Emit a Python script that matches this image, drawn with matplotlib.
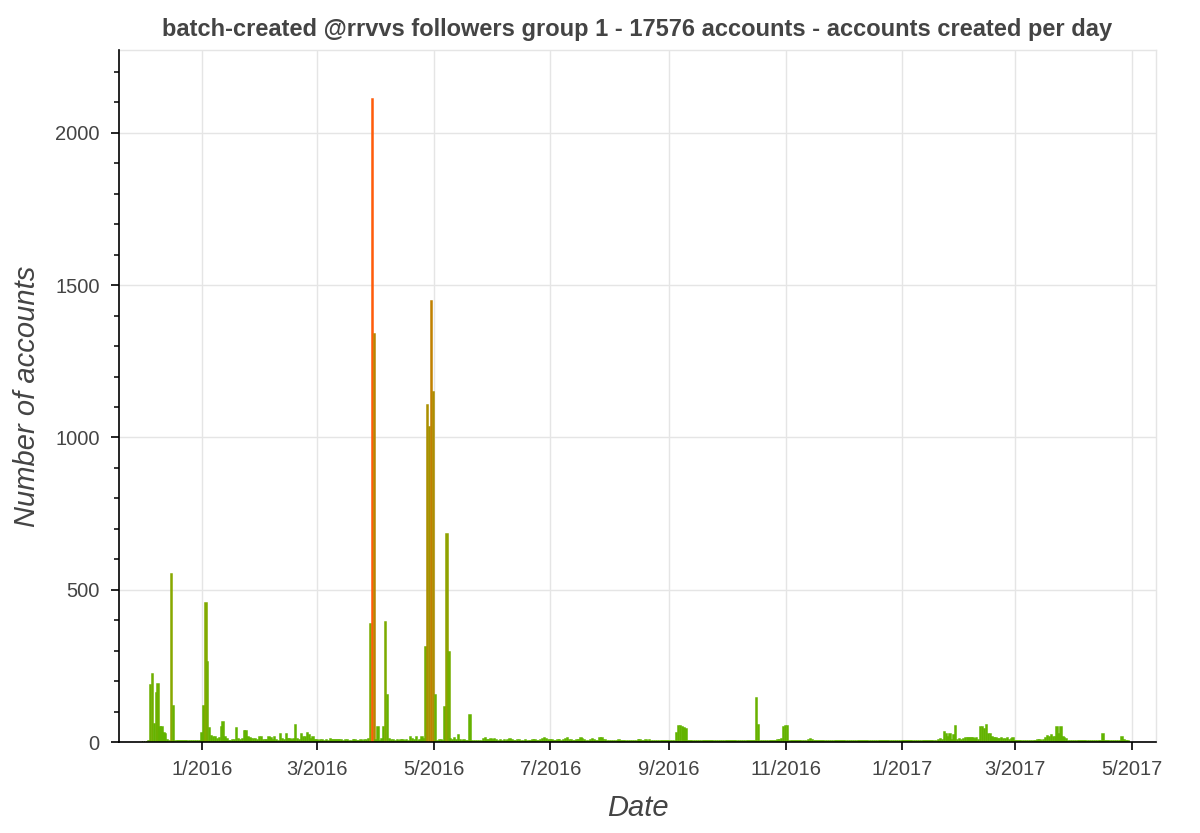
import datetime as dt
import matplotlib
matplotlib.use('Agg')
import matplotlib.pyplot as plt
import matplotlib.dates as mdates
from matplotlib.colors import LinearSegmentedColormap
from matplotlib.ticker import MultipleLocator, FuncFormatter
import pandas as pd

plt.rcParams['font.family'] = ['Liberation Sans', 'DejaVu Sans']

title = 'batch-created @rrvvs followers group 1 - 17576 accounts - accounts created per day'

# accounts created per day, one list per month
dec_2015 = [0, 0, 0, 2, 187, 223, 60, 160, 190, 50, 48, 30, 28, 8, 4, 552, 118, 4, 3, 5, 3, 4, 3, 5, 4, 3, 4, 5, 3, 4, 5]
jan_2016 = [30, 118, 456, 263, 46, 20, 15, 17, 10, 12, 49, 66, 15, 10, 5, 5, 6, 8, 46, 10, 8, 10, 35, 37, 15, 12, 10, 10, 10, 8, 15]
feb_2016 = [15, 7, 6, 8, 15, 12, 6, 18, 8, 5, 27, 10, 8, 27, 10, 10, 8, 10, 55, 10, 8, 25, 15, 15, 30, 22, 10, 15, 6]
mar_2016 = [6, 5, 7, 6, 5, 6, 5, 10, 8, 7, 6, 8, 6, 7, 5, 6, 7, 5, 4, 6, 8, 5, 4, 7, 5, 6, 8, 10, 387, 2110, 1341]
apr_2016 = [8, 49, 5, 10, 49, 394, 155, 10, 8, 6, 5, 7, 5, 6, 8, 5, 6, 5, 15, 10, 6, 15, 5, 7, 16, 10, 313, 1106, 1035, 1448]
may_2016 = [1149, 155, 5, 8, 6, 5, 116, 683, 296, 10, 8, 12, 8, 23, 6, 5, 8, 5, 5, 89, 4, 5, 4, 4, 5, 4, 10, 12, 8, 8, 9]
jun_2016 = [8, 10, 6, 5, 8, 4, 6, 5, 7, 9, 6, 5, 4, 6, 8, 5, 4, 6, 5, 4, 5, 7, 6, 4, 5, 8, 10, 12, 9, 7]
jul_2016 = [8, 6, 5, 4, 6, 8, 5, 7, 10, 12, 8, 6, 5, 4, 6, 8, 12, 9, 6, 5, 4, 8, 10, 6, 5, 4, 12, 12, 8, 6, 5]
aug_2016 = [5, 4, 5, 4, 4, 8, 5, 4, 5, 4, 4, 5, 4, 4, 5, 7, 6, 4, 5, 7, 5, 6, 5, 4, 4, 4, 5, 4, 4, 4, 5]
sep_2016 = [4, 4, 4, 5, 30, 53, 52, 50, 45, 42, 4, 4, 4, 3, 4, 4, 4, 3, 4, 4, 4, 5, 4, 4, 3, 4, 4, 4, 3, 4]
oct_2016 = [4, 3, 4, 4, 3, 4, 4, 4, 3, 4, 3, 4, 4, 4, 3, 5, 144, 56, 4, 4, 3, 4, 4, 4, 4, 3, 5, 8, 6, 10, 48]
nov_2016 = [52, 52, 4, 4, 4, 4, 4, 4, 4, 4, 5, 5, 8, 10, 6, 4, 4, 4, 4, 3, 4, 4, 4, 3, 4, 4, 4, 4, 5, 4]
dec_2016 = [4, 4, 5, 4, 3, 4, 4, 4, 3, 4, 4, 4, 3, 4, 3, 4, 4, 4, 3, 4, 3, 4, 3, 4, 4, 4, 3, 4, 3, 4, 3]
jan_2017 = [4, 3, 4, 3, 4, 3, 4, 4, 4, 3, 4, 3, 4, 4, 4, 4, 5, 4, 5, 8, 10, 8, 33, 28, 18, 25, 8, 22, 52, 8, 10]
feb_2017 = [8, 10, 12, 12, 14, 14, 12, 10, 12, 8, 50, 50, 44, 55, 25, 25, 15, 12, 12, 10, 10, 12, 10, 9, 12, 8, 10, 12]
mar_2017 = [4, 4, 4, 4, 3, 4, 4, 4, 5, 4, 5, 4, 6, 8, 5, 6, 12, 20, 18, 22, 15, 15, 50, 25, 48, 15, 12, 10, 5, 4, 4]
apr_2017 = [5, 4, 5, 4, 4, 5, 4, 5, 4, 5, 4, 4, 5, 4, 4, 25, 4, 4, 4, 4, 3, 4, 4, 4, 4, 15, 8, 4, 2, 0]

counts = (dec_2015 + jan_2016 + feb_2016 + mar_2016 + apr_2016 + may_2016 + jun_2016
          + jul_2016 + aug_2016 + sep_2016 + oct_2016 + nov_2016 + dec_2016
          + jan_2017 + feb_2017 + mar_2017 + apr_2017)
days = pd.date_range('2015-12-01', periods=len(counts), freq='D')

# green -> orange-red depending on the count
cmap = LinearSegmentedColormap.from_list('grn_red', [
    (0.0, '#5fb400'), (0.26, '#88a800'), (0.69, '#c08000'), (1.0, '#ff5c0a')])
vmax = max(counts)
colors = [cmap(c / vmax) for c in counts]

fig = plt.figure(figsize=(12, 8.33), dpi=100)
ax = fig.add_axes([0.0992, 0.1092, 0.8641, 0.8308])

# outline in the same colour as the fill, so tiny bars still show up
ax.bar(days.to_pydatetime(), counts, width=0.7, color=colors, edgecolor=colors,
       linewidth=1.1, zorder=2)

ax.set_xlim(dt.datetime(2015, 11, 18, 14), dt.datetime(2017, 5, 13, 16))
ax.set_ylim(0, 2272)

ax.xaxis.set_major_locator(mdates.MonthLocator(bymonth=[1, 3, 5, 7, 9, 11]))
ax.xaxis.set_major_formatter(FuncFormatter(lambda v, p: '%d/%d' % (mdates.num2date(v).month, mdates.num2date(v).year)))
ax.yaxis.set_major_locator(MultipleLocator(500))
ax.yaxis.set_minor_locator(MultipleLocator(100))

ax.grid(True, which='major', color='#e5e5e5', linewidth=1.0, zorder=0)
for side in ['top', 'right']:
    ax.spines[side].set_color('#e5e5e5')
    ax.spines[side].set_linewidth(1.0)
for side in ['left', 'bottom']:
    ax.spines[side].set_color('black')
    ax.spines[side].set_linewidth(1.2)
    ax.spines[side].set_zorder(3)

ax.tick_params(axis='both', which='major', direction='out', length=6, width=1.2,
               labelsize=14.5, labelcolor='#444444')
ax.tick_params(axis='x', which='major', pad=7)
ax.tick_params(axis='y', which='major', pad=8)
ax.tick_params(axis='y', which='minor', direction='out', length=3.5, width=1.1)
ax.tick_params(axis='x', which='minor', length=0)

ax.set_title(title, fontsize=17, fontweight='bold', color='#444444', pad=10)
ax.set_xlabel('Date', fontsize=21, fontstyle='italic', color='#444444', labelpad=11)
ax.set_ylabel('Number of accounts', fontsize=21, fontstyle='italic', color='#444444', labelpad=10)

fig.savefig('out.png', dpi=100)
